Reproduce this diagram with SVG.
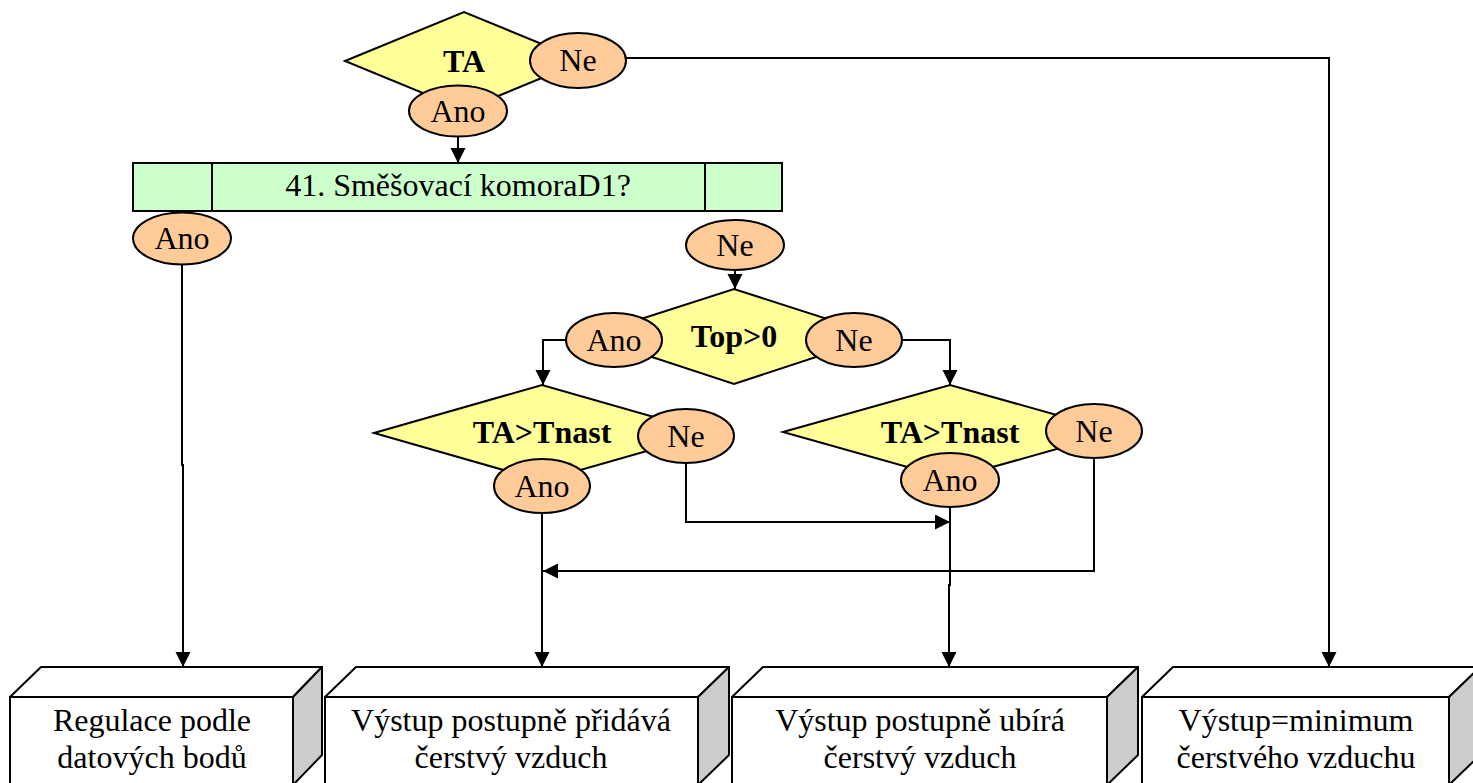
<svg xmlns="http://www.w3.org/2000/svg" width="1473" height="783" viewBox="0 0 1473 783">
<style>
.dia{fill:#FFFF99;stroke:#000;stroke-width:2}
.ell{fill:#FFCC99;stroke:#000;stroke-width:2}
text{font-family:'Liberation Serif','Times New Roman',Times,serif;font-size:32px;fill:#000;text-anchor:middle}
.b{font-weight:bold}
.con{fill:none;stroke:#000;stroke-width:2}
.front{fill:#fff;stroke:#000;stroke-width:2}
.side{fill:#CCCCCC;stroke:#000;stroke-width:2;stroke-linejoin:round}
.top{fill:#fff;stroke:#000;stroke-width:2;stroke-linejoin:round}
</style>
<defs>
<marker id="ah" markerUnits="userSpaceOnUse" markerWidth="16" markerHeight="16" refX="15" refY="7.5" orient="auto">
<path d="M0,0 L15,7.5 L0,15 z" fill="#000"/>
</marker>
</defs>
<rect width="1473" height="783" fill="#fff"/>

<g id="connectors">
<path class="con" d="M458,136 V163" marker-end="url(#ah)"/>
<path class="con" d="M626,58 H1329 V667" marker-end="url(#ah)"/>
<path class="con" d="M182,264 V465 H183 V667" marker-end="url(#ah)"/>
<path class="con" d="M735,270 V289" marker-end="url(#ah)"/>
<path class="con" d="M566,340 H543 V385" marker-end="url(#ah)"/>
<path class="con" d="M902,340 H950 V385" marker-end="url(#ah)"/>
<path class="con" d="M686,463 V522 H950" marker-end="url(#ah)"/>
<path class="con" d="M1094,458 V571 H543" marker-end="url(#ah)"/>
<path class="con" d="M542,513 V667" marker-end="url(#ah)"/>
<path class="con" d="M950,507 V585 H949 V667" marker-end="url(#ah)"/>
</g>

<g id="dTA">
<polygon class="dia" points="345,61 464,12 583,61 464,110"/>
<text class="b" x="464" y="72">TA</text>
</g>
<g id="dTA_ne">
<ellipse class="ell" cx="578" cy="60.5" rx="48" ry="27.5"/>
<text x="578" y="71">Ne</text>
</g>
<g id="dTA_ano">
<ellipse class="ell" cx="458" cy="111" rx="49" ry="25.5"/>
<text x="458" y="122">Ano</text>
</g>

<g id="smesovaci">
<rect x="133" y="163" width="649" height="48" fill="#CCFFCC" stroke="#000" stroke-width="2"/>
<line x1="212" y1="163" x2="212" y2="211" stroke="#000" stroke-width="2"/>
<line x1="705" y1="163" x2="705" y2="211" stroke="#000" stroke-width="2"/>
<text x="458" y="196">41. Směšovací komoraD1?</text>
</g>
<g id="sm_ano">
<ellipse class="ell" cx="182" cy="238.5" rx="49" ry="26"/>
<text x="182" y="249">Ano</text>
</g>
<g id="sm_ne">
<ellipse class="ell" cx="735" cy="245" rx="49" ry="25"/>
<text x="735" y="256">Ne</text>
</g>

<g id="dTop">
<polygon class="dia" points="588,336 734,289 880,336 734,384"/>
<text class="b" x="734" y="347">Top&gt;0</text>
</g>
<g id="top_ano">
<ellipse class="ell" cx="614" cy="340" rx="48" ry="27"/>
<text x="614" y="351">Ano</text>
</g>
<g id="top_ne">
<ellipse class="ell" cx="854" cy="340" rx="48" ry="27"/>
<text x="854" y="351">Ne</text>
</g>

<g id="dTnastL">
<polygon class="dia" points="374,433 542,385 710,433 542,481"/>
<text class="b" x="542" y="443">TA&gt;Tnast</text>
</g>
<g id="tl_ne">
<ellipse class="ell" cx="686" cy="436" rx="48" ry="27"/>
<text x="686" y="447">Ne</text>
</g>
<g id="tl_ano">
<ellipse class="ell" cx="542" cy="486" rx="48" ry="27"/>
<text x="542" y="497">Ano</text>
</g>

<g id="dTnastR">
<polygon class="dia" points="783,432 950,385 1117,432 950,479"/>
<text class="b" x="950" y="443">TA&gt;Tnast</text>
</g>
<g id="tr_ne">
<ellipse class="ell" cx="1094" cy="431" rx="48" ry="27"/>
<text x="1094" y="442">Ne</text>
</g>
<g id="tr_ano">
<ellipse class="ell" cx="950" cy="480" rx="49" ry="27"/>
<text x="950" y="491">Ano</text>
</g>

<g id="box1">
<polygon class="top" points="10,697 41,667 322,667 293,697"/>
<polygon class="side" points="293,697 322,667 322,755 293,785"/>
<rect class="front" x="10" y="697" width="283" height="90"/>
<text x="152" y="731">Regulace podle</text>
<text x="152" y="768">datových bodů</text>
</g>
<g id="box2">
<polygon class="top" points="325,697 356,667 729,667 698,697"/>
<polygon class="side" points="698,697 729,667 729,755 698,785"/>
<rect class="front" x="325" y="697" width="373" height="90"/>
<text x="511" y="731">Výstup postupně přidává</text>
<text x="511" y="768">čerstvý vzduch</text>
</g>
<g id="box3">
<polygon class="top" points="732,697 763,667 1138,667 1107,697"/>
<polygon class="side" points="1107,697 1138,667 1138,755 1107,785"/>
<rect class="front" x="732" y="697" width="375" height="90"/>
<text x="920" y="731">Výstup postupně ubírá</text>
<text x="920" y="768">čerstvý vzduch</text>
</g>
<g id="box4">
<polygon class="top" points="1142,697 1173,667 1480,667 1449,697"/>
<polygon class="side" points="1449,697 1480,667 1480,755 1449,785"/>
<rect class="front" x="1142" y="697" width="307" height="90"/>
<text x="1296" y="731">Výstup=minimum</text>
<text x="1296" y="768">čerstvého vzduchu</text>
</g>
</svg>
